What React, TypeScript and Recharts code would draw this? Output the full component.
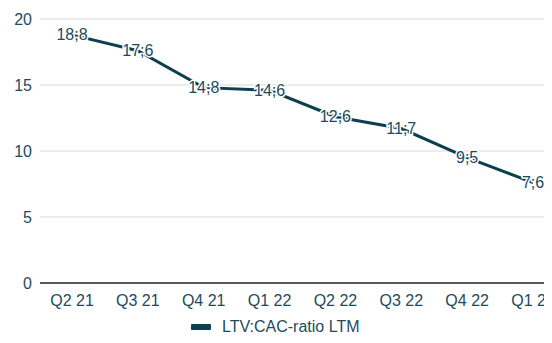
import React from 'react';
import { LineChart, Line, XAxis, YAxis, CartesianGrid, Legend, LabelList } from 'recharts';

const quarters = ['Q2 21', 'Q3 21', 'Q4 21', 'Q1 22', 'Q2 22', 'Q3 22', 'Q4 22', 'Q1 23'];
const ltvCac = [18.8, 17.6, 14.8, 14.6, 12.6, 11.7, 9.5, 7.6];
const yTicks = [0, 5, 10, 15, 20];
const seriesName = 'LTV:CAC-ratio LTM';

const data = quarters.map((q, i) => ({ quarter: q, value: ltvCac[i] }));

const TEAL = '#0d3f4f';
const TEXT = '#1e4b5b';
const FONT = '"Liberation Sans", Arial, sans-serif';

const PointLabel = (props: any) => {
  const { x, y, value } = props;
  return (
    <text
      x={x}
      y={y}
      textAnchor="middle"
      dominantBaseline="central"
      fontSize={16}
      fontFamily={FONT}
      fill={TEXT}
      stroke="#fff"
      strokeWidth={3}
      paintOrder="stroke"
    >
      {String(value).replace('.', ';')}
    </text>
  );
};

const LegendContent = () => (
  <div style={{ display: 'flex', alignItems: 'center', paddingLeft: 191, fontFamily: FONT, fontSize: 16, color: TEXT, lineHeight: '18px' }}>
    <span style={{ display: 'inline-block', width: 20, height: 6, background: TEAL, borderRadius: 1, marginRight: 11 }} />
    <span>{seriesName}</span>
  </div>
);

export default function App() {
  return (
    <div style={{ margin: -8, width: 552, height: 343, overflow: 'hidden', background: '#fff' }}>
      <LineChart width={600} height={343} data={data} margin={{ top: 19, right: 34, left: 0, bottom: 0 }}>
        <CartesianGrid vertical={false} stroke="#d9d9d9" />
        <XAxis
          dataKey="quarter"
          height={24}
          padding={{ left: 32, right: 33 }}
          tickLine={false}
          axisLine={{ stroke: '#595959', strokeWidth: 2 }}
          tick={{ fill: TEXT, fontSize: 16, fontFamily: FONT }}
          tickMargin={6}
        />
        <YAxis
          width={40}
          domain={[0, 20]}
          ticks={yTicks}
          axisLine={false}
          tickLine={false}
          tick={{ fill: TEXT, fontSize: 16, fontFamily: FONT }}
        />
        <Legend
          verticalAlign="bottom"
          height={36}
          content={<LegendContent />}
          wrapperStyle={{ left: 0, width: 600, top: 318, bottom: 'auto' }}
        />
        <Line
          type="linear"
          dataKey="value"
          name={seriesName}
          stroke={TEAL}
          strokeWidth={3}
          dot={false}
          isAnimationActive={false}
        >
          <LabelList dataKey="value" content={<PointLabel />} />
        </Line>
      </LineChart>
    </div>
  );
}
